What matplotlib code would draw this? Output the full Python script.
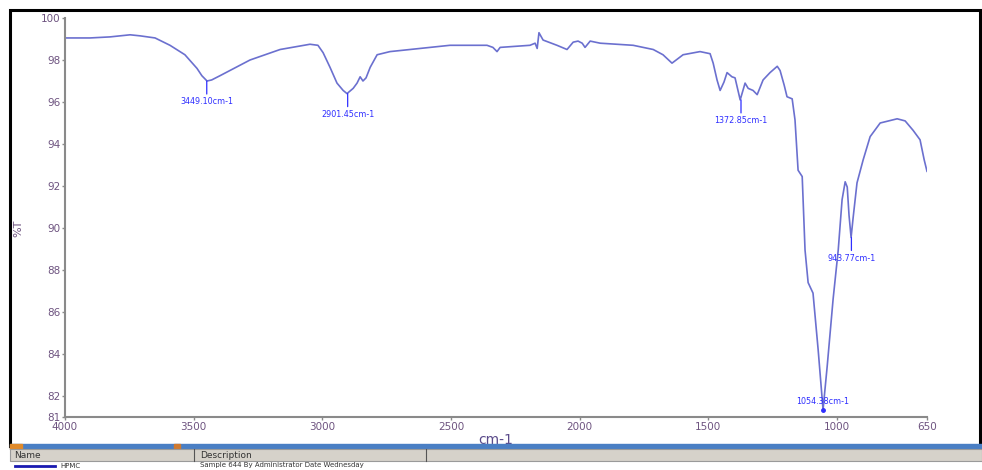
import matplotlib
matplotlib.use("Agg")
import matplotlib.pyplot as plt
from matplotlib.patches import Rectangle

# ===============================
# DATA
# ===============================
wavenumber = [
    4000, 3903, 3825, 3747, 3708, 3650, 3592, 3534, 3487, 3468, 3448, 3430, 3398, 3281,
    3164, 3048, 3017, 2997, 2970, 2943, 2919, 2904, 2880, 2865, 2853, 2842,
    2830, 2814, 2787, 2737, 2698, 2504, 2360, 2337, 2321, 2309, 2193, 2173,
    2165, 2158, 2142, 2088, 2049, 2025, 2006, 1990, 1979, 1959, 1920, 1792,
    1714, 1676, 1641, 1598, 1532, 1493, 1481, 1466, 1454, 1439, 1427, 1408,
    1396, 1376, 1357, 1345, 1326, 1310, 1287, 1260, 1232, 1221, 1205, 1194,
    1174, 1163, 1151, 1135, 1124, 1112, 1093, 1073, 1054, 1038, 1015, 995,
    980, 968, 960, 953, 945, 937, 922, 898, 871, 832, 766, 735, 704, 677,
    661, 650,
]
transmittance = [
    99.05, 99.05, 99.1, 99.2, 99.15, 99.05, 98.7, 98.25, 97.6, 97.25, 97.0, 97.05, 97.25, 98.0,
    98.5, 98.75, 98.7, 98.35, 97.65, 96.9, 96.55, 96.4, 96.65, 96.9, 97.2, 97.0,
    97.15, 97.65, 98.25, 98.4, 98.45, 98.7, 98.7, 98.6, 98.4, 98.6, 98.7, 98.8,
    98.55, 99.3, 98.95, 98.7, 98.5, 98.85, 98.9, 98.8, 98.6, 98.9, 98.8, 98.7,
    98.5, 98.25, 97.85, 98.25, 98.4, 98.3, 97.85, 97.05, 96.55, 96.95, 97.4, 97.2,
    97.15, 96.1, 96.9, 96.65, 96.55, 96.35, 97.05, 97.4, 97.7, 97.5, 96.8, 96.25,
    96.15, 95.15, 92.75, 92.45, 88.95, 87.4, 86.9, 84.2, 81.35, 83.4, 86.6, 88.95,
    91.35, 92.2, 91.95, 90.6, 89.55, 90.5, 92.15, 93.25, 94.35, 95.0, 95.2, 95.1, 94.65, 94.2,
    93.25, 92.7,
]

peak_wn = [3449.10, 2901.45, 1372.85, 943.77, 1054.38]
peak_T = [97.0, 96.4, 96.1, 89.55, 81.35]
peak_labels = ["3449.10cm-1", "2901.45cm-1", "1372.85cm-1", "943.77cm-1", "1054.38cm-1"]

x_ticks = [4000, 3500, 3000, 2500, 2000, 1500, 1000, 650]
y_ticks = [100, 98, 96, 94, 92, 90, 88, 86, 84, 82, 81]

# ===============================
# STYLE
# ===============================
LINE_COLOR = "#6b70cf"
PEAK_COLOR = "#2f2fff"
TICK_COLOR = "#6e5480"
SPINE_COLOR = "#8a8a8a"

W, H = 982, 470
fig = plt.figure(figsize=(W / 100, H / 100), dpi=100)

def px(x, y):
    # pixel (from top-left) -> figure fraction
    return x / W, 1 - y / H

# screenshot frame
fig.patches.append(Rectangle(px(10, 446), 970 / W, 436 / H, transform=fig.transFigure,
                             fill=False, edgecolor="black", linewidth=2.2, zorder=0))

ax = fig.add_axes([65 / W, 1 - 417 / H, 862 / W, 399 / H])
ax.plot(wavenumber, transmittance, color=LINE_COLOR, linewidth=1.2)

ax.set_xlim(4000, 650)
ax.set_ylim(81, 100)
ax.set_xticks(x_ticks)
ax.set_yticks(y_ticks)
ax.tick_params(direction="out", length=2.5, width=1, colors=SPINE_COLOR,
               labelcolor=TICK_COLOR, labelsize=7.5, pad=1)
for side in ["top", "right"]:
    ax.spines[side].set_visible(False)
for side in ["left", "bottom"]:
    ax.spines[side].set_color(SPINE_COLOR)
    ax.spines[side].set_linewidth(1.5)

ax.set_xlabel("cm-1", fontsize=10, color="#5a4a8a", labelpad=1)
fig.text(18 / W, 1 - 228 / H, "%T", rotation=90, fontsize=8, color="#6e5480",
         ha="center", va="center")

# peak labels
for i, (wn, t, lab) in enumerate(zip(peak_wn, peak_T, peak_labels)):
    if i == len(peak_wn) - 1:
        ax.plot(wn, t, marker="o", markersize=2.5, color=PEAK_COLOR)
        ax.annotate(lab, xy=(wn, t), xytext=(0, 8), textcoords="offset pixels",
                    ha="center", va="center", fontsize=5.8, color=PEAK_COLOR)
    else:
        ax.annotate(lab, xy=(wn, t), xytext=(0, -21), textcoords="offset pixels",
                    ha="center", va="center", fontsize=5.8, color=PEAK_COLOR,
                    arrowprops=dict(arrowstyle="-", color=PEAK_COLOR, lw=0.9,
                                    shrinkA=0.5, shrinkB=0))

# bottom strip of the window (screenshot chrome)
fig.patches.append(Rectangle(px(10, 449), 972 / W, 5 / H, transform=fig.transFigure,
                             color="#4a7fc4", zorder=3))
fig.patches.append(Rectangle(px(10, 449), 12 / W, 5 / H, transform=fig.transFigure,
                             color="#e08a2a", zorder=3))
fig.patches.append(Rectangle(px(174, 449), 6 / W, 5 / H, transform=fig.transFigure,
                             color="#d07a30", zorder=3))
fig.patches.append(Rectangle(px(10, 461), 972 / W, 12 / H, transform=fig.transFigure,
                             facecolor="#d6d2ca", edgecolor="#9a9a9a", linewidth=0.8, zorder=3))
for xd in [194, 426]:
    fig.lines.append(plt.Line2D([xd / W, xd / W], [1 - 461 / H, 1 - 449 / H],
                                transform=fig.transFigure, color="#555555", linewidth=0.8, zorder=4))
fig.text(14 / W, 1 - 455 / H, "Name", fontsize=6.5, color="#333333", va="center", zorder=4)
fig.text(200 / W, 1 - 455 / H, "Description", fontsize=6.5, color="#333333", va="center", zorder=4)
fig.lines.append(plt.Line2D([15 / W, 55 / W], [1 - 466 / H, 1 - 466 / H],
                            transform=fig.transFigure, color="#1a1ab0", linewidth=2, zorder=4))
fig.text(60 / W, 1 - 467.5 / H, "HPMC", fontsize=5, color="#333333", va="baseline", zorder=4)
fig.text(200 / W, 1 - 467.5 / H, "Sample 644 By Administrator Date Wednesday",
         fontsize=5, color="#333333", va="baseline", zorder=4)

fig.savefig("out.png", dpi=100)
